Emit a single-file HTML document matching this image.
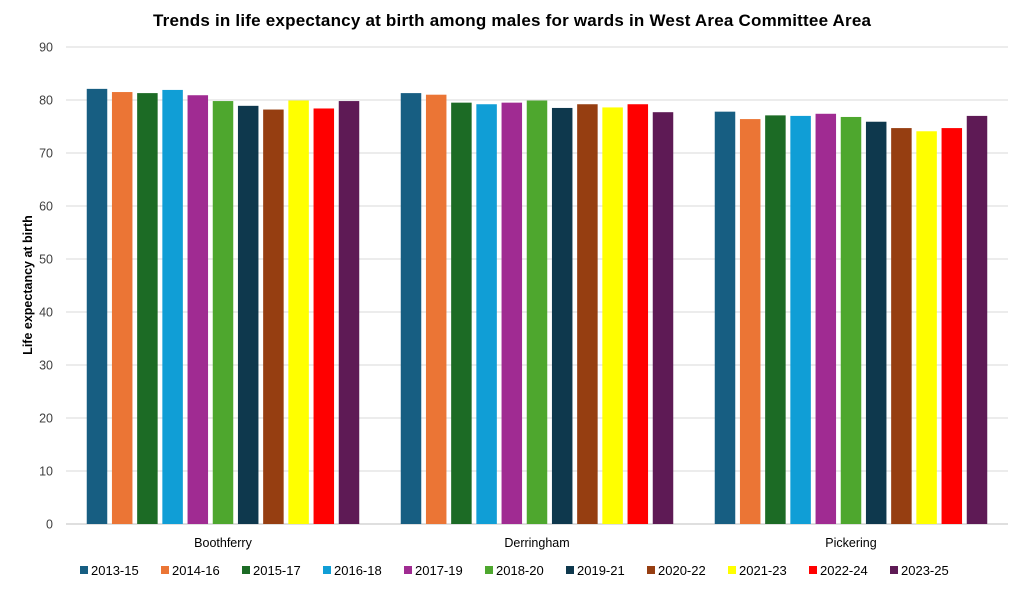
<!DOCTYPE html>
<html><head><meta charset="utf-8"><style>
body{margin:0;background:#fff;font-family:"Liberation Sans",Arial,sans-serif}
svg text{font-family:"Liberation Sans",Arial,sans-serif}
</style></head><body>
<svg id="chart" width="1024" height="590">
<text x="512" y="26" text-anchor="middle" font-size="17" font-weight="bold" fill="#000" textLength="718">Trends in life expectancy at birth among males for wards in West Area Committee Area</text>
<text transform="translate(32,285) rotate(-90)" text-anchor="middle" font-size="12.5" font-weight="bold">Life expectancy at birth</text>
<g id="grid"></g><g id="bars"></g><g id="legend"></g>
</svg>
<script>
const categories=["Boothferry","Derringham","Pickering"];
const periods=["2013-15","2014-16","2015-17","2016-18","2017-19","2018-20","2019-21","2020-22","2021-23","2022-24","2023-25"];
const colors=["#175e82","#eb7535","#1c6b25","#109ed6","#a02b92","#4ea72e","#0e384d","#963e11","#ffff00","#ff0000","#5e1a55"];
const boothferry=[82.1,81.5,81.3,81.9,80.9,79.8,78.9,78.2,79.9,78.4,79.8];
const derringham=[81.3,81.0,79.5,79.2,79.5,79.9,78.5,79.2,78.6,79.2,77.7];
const pickering=[77.8,76.4,77.1,77.0,77.4,76.8,75.9,74.7,74.1,74.7,77.0];
const yTicks=[0,10,20,30,40,50,60,70,80,90];
const series=[boothferry,derringham,pickering];
const NS="http://www.w3.org/2000/svg";
const y0=524,y90=47,xL=66,xR=1008;
const yS=v=>y0-(v/90)*(y0-y90);
const catW=(xR-xL)/categories.length;
const step=25.2,bw=20.5;
function mk(t,a,p){const e=document.createElementNS(NS,t);for(const k in a)e.setAttribute(k,a[k]);p.appendChild(e);return e;}
const grid=document.getElementById('grid');
yTicks.forEach(t=>{
 const l=mk('line',{x1:xL,x2:xR,y1:yS(t),y2:yS(t),stroke:t===0?'#bfbfbf':'#d9d9d9','stroke-width':1},grid);
 
 
 const tx=mk('text',{x:53,y:yS(t)+4.5,'text-anchor':'end','font-size':12.5,fill:'#404040'},grid);
 tx.textContent=t;
 
 
});
const bars=document.getElementById('bars');
categories.forEach((c,ci)=>{
 const cx=xL+catW*(ci+0.5);
 const start=cx-step*periods.length/2+(step-bw)/2;
 series[ci].forEach((v,pi)=>{
  const r=mk('rect',{x:start+pi*step,y:yS(v),width:bw,height:y0-yS(v),fill:colors[pi]},bars);
  
  
 });
 const tx=mk('text',{x:cx,y:547,'text-anchor':'middle','font-size':12.5,fill:'#000'},bars);
 tx.textContent=c;
 
 
});
const lg=document.getElementById('legend');
periods.forEach((p,i)=>{
 const x=80+i*81;
 const r=mk('rect',{x:x,y:566,width:8,height:8,fill:colors[i]},lg);
 
 
 const t=mk('text',{x:x+11,y:575,'font-size':13,fill:'#000'},lg);
 t.textContent=p;
 
 
});
</script>
</body></html>
